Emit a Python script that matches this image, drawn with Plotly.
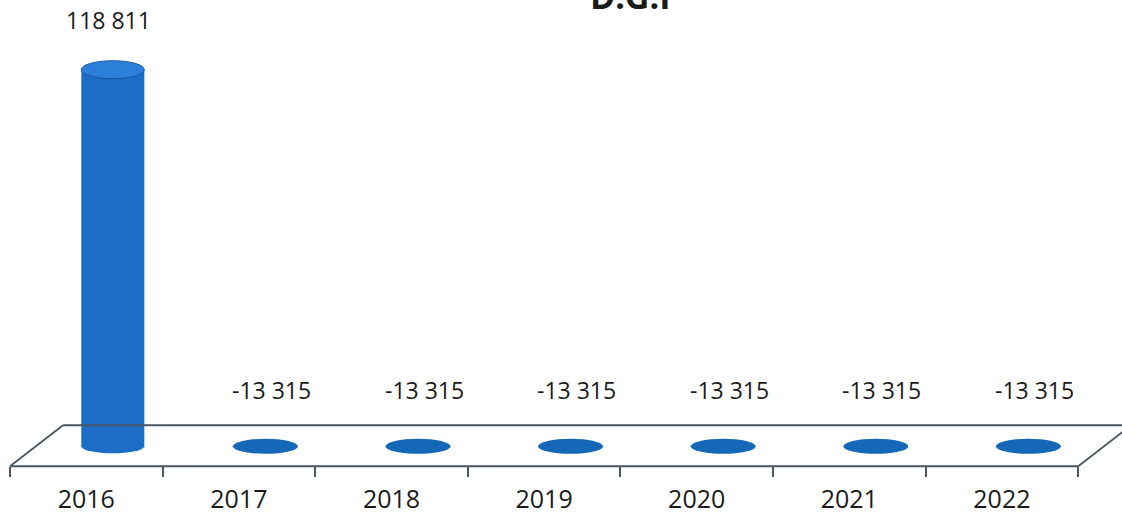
import plotly.graph_objects as go

# ---- data ----
years = ["2016", "2017", "2018", "2019", "2020", "2021", "2022"]
values = [118811, -13315, -13315, -13315, -13315, -13315, -13315]
title_text = "D.G.I"

# ---- layout geometry ----
W, H = 1122, 515
unit = 152.6            # px per category
left_pad = 10           # px left of first category boundary
x_lo = -0.5 - left_pad / unit
x_hi = x_lo + W / unit
depth = 53 / unit       # horizontal depth of the 3D floor (category units)
mid = depth / 2
zero_px = 448           # pixel row of the zero level
top_px = 70             # pixel row of the tallest bar top
vmax = max(values)
R = vmax * zero_px / (zero_px - top_px)
d = (H - zero_px) / H
Y0 = -R * d / (1 - d)
n = len(years)

bar_w = 0.413
bar_col = "#1b6dc5"
top_col = "#2b7fd8"
disk_col = "#1567b8"
edge_col = "#4a5563"
txt_col = "#1a1a1a"
font_family = "Open Sans, Noto Sans, sans-serif"

fig = go.Figure()
fig.add_trace(go.Bar(
    x=years, y=values, xaxis="x", yaxis="y",
    width=bar_w, offset=mid - bar_w / 2,
    marker=dict(color=bar_col, line=dict(width=0)),
    hoverinfo="skip", showlegend=False,
))
# helper trace establishing the full-height floor subplot
fig.add_trace(go.Scatter(
    x=years, y=[0] * n, xaxis="x", yaxis="y2", mode="markers",
    marker=dict(opacity=0), hoverinfo="skip", showlegend=False,
))

shapes = []
line_style = dict(color=edge_col, width=1.8)
floor_common = dict(type="line", xref="x", yref="y2", ysizemode="pixel",
                    yanchor=0, layer="below", line=line_style)
shapes.append(dict(floor_common, x0=-0.5, x1=n - 0.5, y0=-20, y1=-20))
shapes.append(dict(floor_common, x0=-0.5 + depth, x1=n - 0.5 + depth, y0=21, y1=21))
shapes.append(dict(floor_common, x0=-0.5, x1=-0.5 + depth, y0=-20, y1=21))
shapes.append(dict(floor_common, x0=n - 0.5, x1=n - 0.5 + depth, y0=-20, y1=21))

annotations = []
for i, v in enumerate(values):
    cx = i + mid
    if v > 0:
        shapes.append(dict(type="circle", xref="x", yref="y2", ysizemode="pixel",
                           yanchor=0, x0=cx - bar_w / 2, x1=cx + bar_w / 2,
                           y0=-7, y1=7, fillcolor=bar_col, line=dict(width=0),
                           layer="above"))
        shapes.append(dict(type="circle", xref="x", yref="y2", ysizemode="pixel",
                           yanchor=v, x0=cx - bar_w / 2, x1=cx + bar_w / 2,
                           y0=-9, y1=9, fillcolor=top_col,
                           line=dict(width=1, color="#1456a6"), layer="above"))
    else:
        dw = 0.426
        shapes.append(dict(type="circle", xref="x", yref="y2", ysizemode="pixel",
                           yanchor=0, x0=cx - dw / 2, x1=cx + dw / 2,
                           y0=-7.5, y1=7.5, fillcolor=disk_col, line=dict(width=0),
                           layer="above"))
    label = f"{v:,}".replace(",", " ")
    annotations.append(dict(
        x=cx, y=max(v, 0), xref="x", yref="y2", text=label, showarrow=False,
        yshift=50 if v > 0 else 56, xshift=-4 if v > 0 else 6,
        font=dict(family=font_family, size=23, color=txt_col),
    ))

annotations.append(dict(
    x=630 / W, y=1, xref="paper", yref="paper", text=f"<b>{title_text}</b>",
    showarrow=False, yanchor="middle", yshift=4,
    font=dict(family=font_family, size=34, color=txt_col),
))

fig.update_layout(
    width=W, height=H,
    margin=dict(l=0, r=0, t=0, b=0),
    paper_bgcolor="white", plot_bgcolor="rgba(0,0,0,0)",
    showlegend=False, hovermode=False,
    xaxis=dict(
        domain=[0, 1], range=[x_lo, x_hi], type="category",
        anchor="free", position=(H - 468) / H,
        showgrid=False, zeroline=False, showline=False,
        tickson="boundaries", ticks="outside", ticklen=10, tickwidth=1.6,
        tickcolor=edge_col, ticklabelstandoff=16,
        tickfont=dict(family=font_family, size=25, color=txt_col),
    ),
    yaxis=dict(domain=[d, 1], range=[0, R], visible=False, anchor="x"),
    yaxis2=dict(domain=[0, 1], range=[Y0, R], visible=False, anchor="x"),
    shapes=shapes,
    annotations=annotations,
)

fig.write_html("out.html", config={"displayModeBar": False})
